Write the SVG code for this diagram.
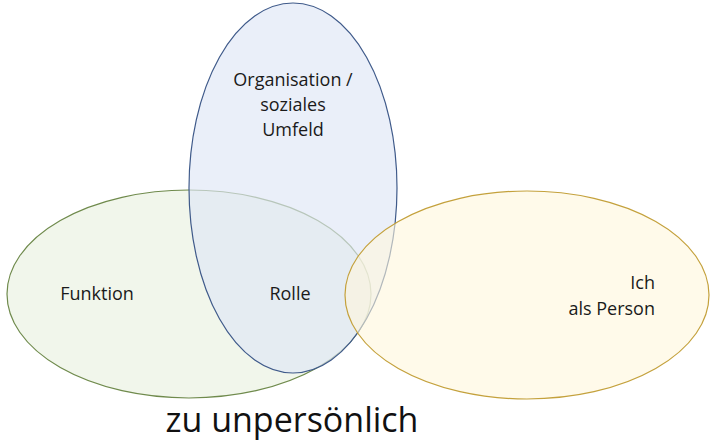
<svg xmlns="http://www.w3.org/2000/svg" width="713" height="442" viewBox="0 0 713 442">
<style>
.lbl{font-family:"Open Sans","Liberation Sans",sans-serif;font-size:18px;fill:#1a1a1a}
.big{font-family:"Open Sans","Liberation Sans",sans-serif;font-size:34px;fill:#111}
</style>
<rect width="713" height="442" fill="#ffffff"/>
<g id="funktion">
<ellipse cx="189" cy="294" rx="182" ry="104" fill="#eef4e6" fill-opacity="0.8" stroke="#6f8a4c" stroke-width="1.2"/>
<text class="lbl" x="97" y="300" text-anchor="middle">Funktion</text>
</g>
<g id="organisation">
<ellipse cx="293" cy="188" rx="104" ry="185" fill="#dfe6f6" fill-opacity="0.65" stroke="#3f5a8a" stroke-width="1.2"/>
<text class="lbl" x="293" y="86" text-anchor="middle">Organisation /</text>
<text class="lbl" x="293" y="111" text-anchor="middle">soziales</text>
<text class="lbl" x="293" y="136" text-anchor="middle">Umfeld</text>
</g>
<g id="person">
<ellipse cx="527" cy="295" rx="182" ry="104" fill="#fff6dc" fill-opacity="0.6" stroke="#c4a13c" stroke-width="1.2"/>
<text class="lbl" x="655" y="289" text-anchor="end">Ich</text>
<text class="lbl" x="655" y="315" text-anchor="end">als Person</text>
</g>
<g id="rolle">
<text class="lbl" x="290" y="300" text-anchor="middle">Rolle</text>
</g>
<g id="connectors"></g>
<text class="big" x="292" y="432" text-anchor="middle">zu unpersönlich</text>
</svg>
